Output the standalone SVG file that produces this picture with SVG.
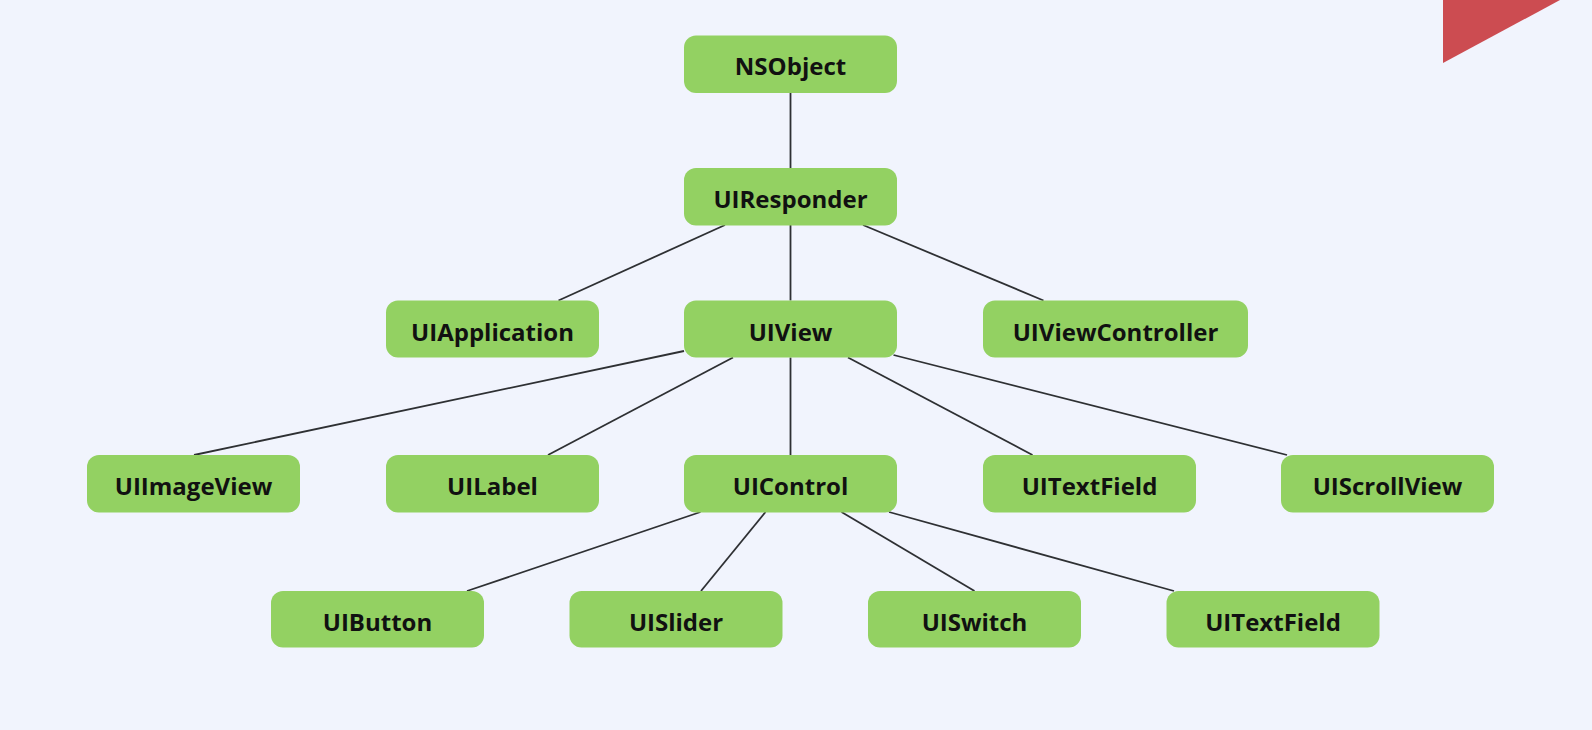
<svg xmlns="http://www.w3.org/2000/svg" width="1592" height="730" viewBox="0 0 1592 730">
  <style>
    .node rect { fill: #93d162; }
    .node text { font-family: "Open Sans", "Noto Sans", "Liberation Sans", sans-serif; font-weight: bold; font-size: 24px; fill: #111111; text-anchor: middle; }
    #connectors line { stroke: #2e3033; stroke-width: 1.8; fill: none; }
  </style>
  <rect x="0" y="0" width="1592" height="730" fill="#f1f4fd"/>
  <polygon points="1443,0 1560,0 1443,63" fill="#cc4c51"/>

  <g id="connectors">
    <line x1="790.5" y1="93" x2="790.5" y2="168"/>
    <line x1="725" y1="225" x2="558.5" y2="300.5"/>
    <line x1="790.5" y1="225" x2="790.5" y2="300.5"/>
    <line x1="863" y1="225" x2="1043.5" y2="300.5"/>
    <line x1="684" y1="351" x2="194" y2="455"/>
    <line x1="733" y1="357.5" x2="548" y2="455"/>
    <line x1="790.5" y1="357.5" x2="790.5" y2="455"/>
    <line x1="848" y1="357.5" x2="1032.5" y2="455"/>
    <line x1="893.5" y1="355" x2="1287" y2="455"/>
    <line x1="700.5" y1="512" x2="467" y2="591"/>
    <line x1="765.5" y1="512" x2="701" y2="591"/>
    <line x1="841.5" y1="512" x2="974.5" y2="591"/>
    <line x1="889" y1="512" x2="1174" y2="591"/>
  </g>

  <g id="NSObject" class="node">
    <rect x="684" y="35.5" width="213" height="57.5" rx="12"/>
    <text x="790.5" y="75">NSObject</text>
  </g>
  <g id="UIResponder" class="node">
    <rect x="684" y="168" width="213" height="57.5" rx="12"/>
    <text x="790.5" y="208">UIResponder</text>
  </g>
  <g id="UIApplication" class="node">
    <rect x="386" y="300.5" width="213" height="57" rx="12"/>
    <text x="492.5" y="340.5">UIApplication</text>
  </g>
  <g id="UIView" class="node">
    <rect x="684" y="300.5" width="213" height="57" rx="12"/>
    <text x="790.5" y="340.5">UIView</text>
  </g>
  <g id="UIViewController" class="node">
    <rect x="983" y="300.5" width="265" height="57" rx="12"/>
    <text x="1115.5" y="340.5">UIViewController</text>
  </g>
  <g id="UIImageView" class="node">
    <rect x="87" y="455" width="213" height="57.5" rx="12"/>
    <text x="193.5" y="495">UIImageView</text>
  </g>
  <g id="UILabel" class="node">
    <rect x="386" y="455" width="213" height="57.5" rx="12"/>
    <text x="492.5" y="495">UILabel</text>
  </g>
  <g id="UIControl" class="node">
    <rect x="684" y="455" width="213" height="57.5" rx="12"/>
    <text x="790.5" y="495">UIControl</text>
  </g>
  <g id="UITextField1" class="node">
    <rect x="983" y="455" width="213" height="57.5" rx="12"/>
    <text x="1089.5" y="495">UITextField</text>
  </g>
  <g id="UIScrollView" class="node">
    <rect x="1281" y="455" width="213" height="57.5" rx="12"/>
    <text x="1387.5" y="495">UIScrollView</text>
  </g>
  <g id="UIButton" class="node">
    <rect x="271" y="591" width="213" height="56.5" rx="12"/>
    <text x="377.5" y="630.5">UIButton</text>
  </g>
  <g id="UISlider" class="node">
    <rect x="569.5" y="591" width="213" height="56.5" rx="12"/>
    <text x="676" y="630.5">UISlider</text>
  </g>
  <g id="UISwitch" class="node">
    <rect x="868" y="591" width="213" height="56.5" rx="12"/>
    <text x="974.5" y="630.5">UISwitch</text>
  </g>
  <g id="UITextField2" class="node">
    <rect x="1166.5" y="591" width="213" height="56.5" rx="12"/>
    <text x="1273" y="630.5">UITextField</text>
  </g>
</svg>
